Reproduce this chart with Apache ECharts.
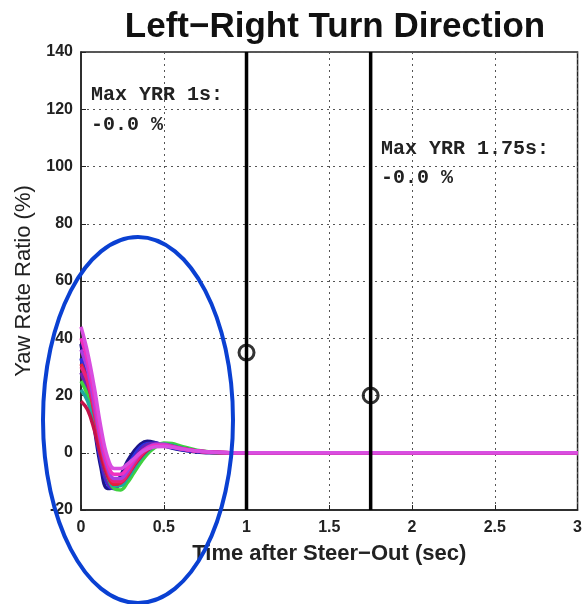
<!DOCTYPE html>
<html>
<head>
<meta charset="utf-8">
<script src="https://cdn.jsdelivr.net/npm/echarts@6/dist/echarts.min.js"></script>
<style>
  html, body { margin: 0; padding: 0; background: #ffffff; }
  #chart { width: 585px; height: 604px; }
</style>
</head>
<body>
<div id="chart"></div>
<script>
// Sample times (s) shared by every steer-out run
const timeSec = [0, 0.04, 0.08, 0.12, 0.16, 0.2, 0.24, 0.28, 0.32, 0.36, 0.4, 0.45, 0.5, 0.55, 0.6, 0.7, 0.8, 0.9, 1.0, 3.0];

// Yaw rate ratio (%) per run
const runNavy    = [38, 24, 9, -5, -12.5, -12, -8, -3, 0.5, 3, 4.0, 3.5, 2.5, 1.6, 1.0, 0.3, 0, 0, 0, 0];
const runBlue    = [33, 23, 10, -3, -11, -12.5, -9.5, -5, -1, 2, 3.2, 3.3, 2.6, 1.8, 1.2, 0.4, 0.1, 0, 0, 0];
const runPurple  = [28, 21, 10, -2, -10, -12.5, -10.5, -6.5, -2.5, 1, 2.8, 3.2, 2.8, 2.0, 1.3, 0.5, 0.1, 0, 0, 0];
const runGreen   = [25, 20, 11, 0, -8, -12.5, -13, -10.5, -7, -3.5, -0.5, 2.0, 3.4, 3.2, 2.4, 0.9, 0.2, 0, 0, 0];
const runTeal    = [22, 18, 10, 0, -8, -11.5, -11.5, -9, -5.5, -2, 0.5, 2.5, 3.0, 2.6, 1.8, 0.7, 0.1, 0, 0, 0];
const runCrimson = [18, 15, 8, -1, -8, -11, -10.5, -8, -4.5, -1.5, 0.8, 2.5, 2.8, 2.3, 1.6, 0.6, 0.2, 0, 0, 0];
const runRed     = [31, 25, 14, 2, -7, -11, -10.5, -8, -4, -1, 1.2, 2.6, 2.8, 2.2, 1.5, 0.6, 0.1, 0, 0, 0];
const runPink    = [30, 25, 15, 3, -6, -10, -10, -7.5, -4, -1, 1.2, 2.6, 2.8, 2.2, 1.5, 0.6, 0.2, 0, 0, 0];
const runViolet  = [36, 29, 17, 4, -5, -9, -9, -6.5, -3, 0, 1.8, 3.0, 3.0, 2.2, 1.6, 0.6, 0.2, 0, 0, 0];
const runHotPink = [40, 32, 20, 6, -3.5, -7.5, -7.5, -5.5, -2.5, 0, 1.6, 2.6, 2.6, 2.1, 1.5, 0.6, 0.2, 0, 0, 0];
const runMagenta = [44, 35, 23, 9, -1.5, -5.5, -5.5, -4, -2, 0, 1.3, 2.1, 2.2, 1.9, 1.4, 0.6, 0.2, 0, 0, 0];

// Evaluation gates (s) and the ratio read at each gate (%)
const gateTimes  = [1, 1.75];
const gateValues = [35, 20];

const runs = [
  { values: runNavy,    color: '#1c1488' },
  { values: runBlue,    color: '#2b2fe0' },
  { values: runPurple,  color: '#6a22b4' },
  { values: runGreen,   color: '#3fd23f' },
  { values: runTeal,    color: '#1fa8a0' },
  { values: runCrimson, color: '#c3124a' },
  { values: runRed,     color: '#e4203a' },
  { values: runPink,    color: '#ea2078' },
  { values: runViolet,  color: '#a83ee0' },
  { values: runHotPink, color: '#f030c0' },
  { values: runMagenta, color: '#d84ee0' }
];

const runSeries = runs.map(r => ({
  type: 'line',
  data: timeSec.map((t, i) => [t, r.values[i]]),
  smooth: 0.4,
  symbol: 'none',
  lineStyle: { color: r.color, width: 3.5 },
  z: 3,
  silent: true
}));

const gateSeries = gateTimes.map(t => ({
  type: 'line',
  data: [[t, -20], [t, 140]],
  symbol: 'none',
  lineStyle: { color: '#000', width: 3.5 },
  z: 5,
  silent: true
}));

const gateMarks = {
  type: 'scatter',
  data: gateTimes.map((t, i) => [t, gateValues[i]]),
  symbol: 'circle',
  symbolSize: 15,
  itemStyle: { color: 'rgba(0,0,0,0)', borderColor: '#000', borderWidth: 3 },
  z: 6,
  silent: true
};

const sans = 'Liberation Sans, Arial, sans-serif';
const mono = 'bold 20px "Liberation Mono", "Courier New", monospace';
const gridLine = { show: true, lineStyle: { color: '#555', width: 1, type: [2, 4] } };
const tickFont = { color: '#222', fontSize: 16, fontWeight: 'bold', fontFamily: sans };

const chart = echarts.init(document.getElementById('chart'), null, { renderer: 'canvas' });
chart.setOption({
  animation: false,
  backgroundColor: '#ffffff',
  title: {
    text: 'Left\u2212Right Turn Direction',
    left: 330,
    textAlign: 'center',
    top: 5,
    textStyle: { fontSize: 35, fontWeight: 'bold', color: '#111', fontFamily: sans }
  },
  grid: { left: 81, right: 4, top: 52, bottom: 94, show: true, borderColor: '#222', borderWidth: 1.5, backgroundColor: 'transparent' },
  xAxis: {
    type: 'value', min: 0, max: 3, interval: 0.5,
    name: 'Time after Steer\u2212Out (sec)',
    nameLocation: 'middle', nameGap: 33,
    nameTextStyle: { fontSize: 22, fontWeight: 'bold', color: '#222', fontFamily: sans },
    axisLine: { show: true, onZero: false, lineStyle: { color: '#222', width: 1.5 } },
    axisTick: { show: true, inside: true, length: 5, lineStyle: { color: '#222' } },
    axisLabel: Object.assign({ margin: 10 }, tickFont),
    splitLine: gridLine
  },
  yAxis: {
    type: 'value', min: -20, max: 140, interval: 20,
    name: 'Yaw Rate Ratio (%)',
    nameLocation: 'middle', nameGap: 42,
    nameTextStyle: { fontSize: 22, color: '#222', fontFamily: sans },
    axisLine: { show: true, onZero: false, lineStyle: { color: '#222', width: 1.5 } },
    axisTick: { show: true, inside: true, length: 5, lineStyle: { color: '#222' } },
    axisLabel: Object.assign({ margin: 8 }, tickFont),
    splitLine: gridLine
  },
  series: runSeries.concat(gateSeries, [gateMarks]),
  graphic: [
    { type: 'text', left: 91, top: 85, z: 10, style: { text: 'Max YRR 1s:', font: mono, fill: '#222' } },
    { type: 'text', left: 91, top: 115, z: 10, style: { text: '-0.0 %', font: mono, fill: '#222' } },
    { type: 'text', left: 381, top: 139, z: 10, style: { text: 'Max YRR 1.75s:', font: mono, fill: '#222' } },
    { type: 'text', left: 381, top: 168, z: 10, style: { text: '-0.0 %', font: mono, fill: '#222' } },
    { type: 'ellipse', z: 20, silent: true,
      shape: { cx: 138, cy: 420, rx: 95, ry: 183 },
      style: { fill: null, stroke: '#0a40d2', lineWidth: 4 } }
  ]
});
</script>
</body>
</html>
